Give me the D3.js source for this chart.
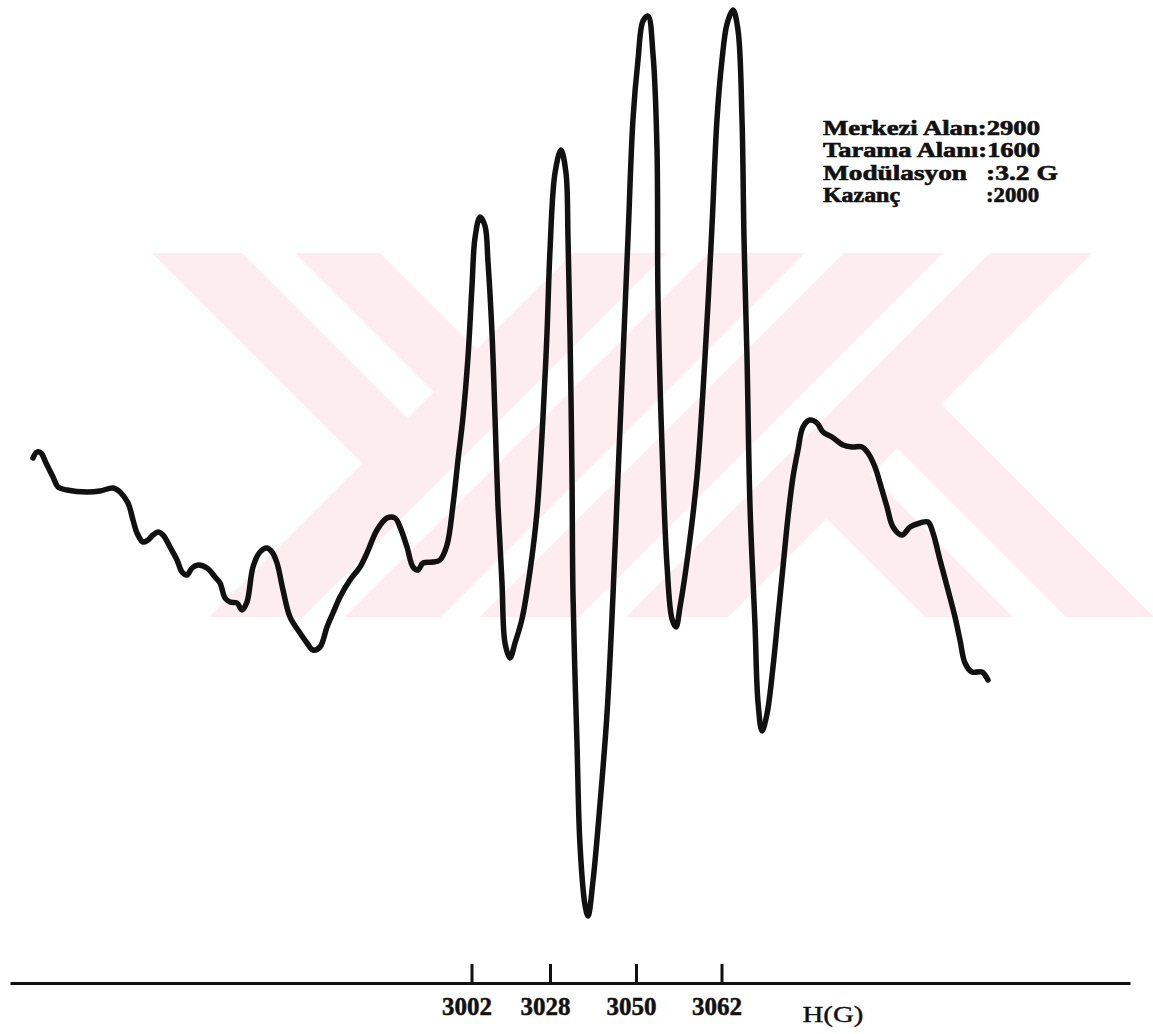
<!DOCTYPE html>
<html>
<head>
<meta charset="utf-8">
<script src="https://cdn.jsdelivr.net/npm/d3@7"></script>
<style>
  body { margin: 0; background: #fff; }
  svg { display: block; }
</style>
</head>
<body>
<svg id="chart" width="1153" height="1034"></svg>
<script>
// EPR trace: sweep position / signal amplitude (arb. units)
const sweep = [0, 0.8, 1.6, 2.6, 4, 5, 6.8, 10.8, 13.4, 16, 17.4, 19, 20, 20.8, 22, 23, 24, 25, 26, 27.4,
  28.8, 29.8, 30.8, 31.8, 33, 34.8, 36.4, 37.4, 38.4, 39.4, 40.8, 41.8, 42.8, 44, 45.4, 46.8, 47.8, 48.8, 50, 51.4,
  53.4, 54.8, 56, 57.4, 58.8, 60, 61.4, 63.4, 65.4, 66.8, 68.8, 70.8, 72.4, 73.4, 74.8, 76, 77, 78, 80, 81.4,
  82.8, 84, 85, 86, 87, 87.8, 88.4, 89.4, 90.4, 91, 91.8, 92.4, 93, 93.8, 94.4, 95.4, 96.4, 97.8, 99.4, 100.8,
  102, 102.8, 103.4, 104.4, 105.6, 106.6, 107, 107.4, 107.8, 108, 108.8, 109.4, 110.4, 111, 112, 113.4, 114.8, 116, 117, 118,
  119, 120, 121, 122, 123, 124, 124.8, 125, 125.8, 126.8, 127.8, 128.6, 129.4, 131, 132.8, 134.4, 135.8, 136.8, 137.8, 138.8,
  140, 141, 141.8, 142.2, 142.8, 143.4, 144.4, 145, 145.8, 146.8, 148, 149, 150, 151, 152, 153, 154, 155.4, 156.8, 158,
  159.8, 162, 163.8, 165.8, 167, 168.4, 169.4, 170.8, 172, 173.8, 175.4, 177.4, 179, 180, 181.4, 183, 184.4, 185.4, 186.4, 187.8,
  189.8, 191];
const signal = [1, 2.2, 2, 0, -2.8, -4.8, -5.4, -5.8, -5.6, -5, -5.8, -8, -11.4, -14, -15.8, -15.4, -14.4, -13.8, -14.4, -16.8,
  -19.4, -21.8, -22.4, -21, -20.4, -21, -22.8, -24, -27, -27.8, -28, -29.4, -27.8, -20.8, -17.8, -17, -17.8, -20, -25.4, -30.8,
  -34, -36, -37.4, -36.8, -32.8, -30, -26.8, -23.4, -20.8, -18, -13.4, -11, -11, -12.8, -16.8, -20.8, -21.4, -20, -19.8, -19.4,
  -16.4, -8.4, 0.6, 9.2, 21.2, 35.4, 45, 49.2, 47.4, 40.2, 26, 9.2, -8.6, -24, -36, -39, -36, -31.2, -21.6, -9.8,
  9.2, 26, 42.6, 58, 62.6, 58, 45, 26, -2.6, -26.4, -56.2, -76.4, -88.4, -90.6, -83.6, -68.2, -50.2, -26.4, -2.6, 21.2,
  45, 68.8, 80.6, 88.4, 89.4, 81.8, 62.8, 33, 3.4, -20.4, -31.2, -32.8, -28.8, -18.2, -2.6, 21.2, 47.4, 68.8, 80.6, 87.8,
  90.6, 86.6, 68.8, 45, 21.2, -8.6, -32.4, -47.8, -53.6, -50.2, -40.8, -30.8, -20.8, -10.8, -2.8, 2.6, 7.2, 8.6, 8, 6.2,
  5.2, 3.6, 3.2, 3.2, 2, -0.8, -4, -8.8, -12.8, -14.4, -12.8, -12, -11.8, -14, -19.4, -25.4, -30.8, -35.4, -40, -41.8,
  -41.8, -43.4];

// field markers on the sweep axis
const tickPos = [87.7, 103.4, 120.6, 137.7];
const tickLabels = ['3002', '3028', '3050', '3062'];
const axisTitle = 'H(G)';

// instrument settings
const paramNames = ['Merkezi Alan:2900', 'Tarama Alanı:1600', 'Modülasyon', 'Kazanç'];
const paramValues = ['', '', ':3.2 G', ':2000'];

const svg = d3.select('#chart');
const serif = '"Liberation Serif", "Times New Roman", serif';
const ink = '#111';

const x = d3.scaleLinear().domain([-4.6, 219.4]).range([10, 1130]);
const y = d3.scaleLinear().domain([-91, 91]).range([918, 8]);

// pale watermark behind the trace
const wm = svg.append('g').attr('fill', '#fdedf0');
const wTop = 253, wBot = 617;
const slashes = [[826, 920], [962, 1058], [1097, 1196], [1243, 1345]];   // x+y bands
slashes.forEach(([a, b]) => {
  wm.append('polygon').attr('points',
    [[a - wTop, wTop], [b - wTop, wTop], [b - wBot, wBot], [a - wBot, wBot]].join(' '));
});
const cutL = 836, cutR = 1335;
[[-101, -11], [42, 127]].forEach(([c, d]) => {   // x-y bands, upper left
  wm.append('polygon').attr('points',
    [[c + wTop, wTop], [d + wTop, wTop], [(cutL + d) / 2, (cutL - d) / 2], [(cutL + c) / 2, (cutL - c) / 2]].join(' '));
});
[[308, 396], [449, 537]].forEach(([c, d]) => {    // x-y bands, lower right
  wm.append('polygon').attr('points',
    [[(cutR + c) / 2, (cutR - c) / 2], [(cutR + d) / 2, (cutR - d) / 2], [d + wBot, wBot], [c + wBot, wBot]].join(' '));
});

// axis
const axis = d3.axisBottom(x)
  .tickValues(tickPos)
  .tickFormat((d, i) => tickLabels[i])
  .tickSize(-19)
  .tickSizeOuter(0)
  .tickPadding(14);

const gx = svg.append('g').attr('transform', 'translate(0,983)').call(axis);
gx.select('.domain').attr('stroke', ink).attr('stroke-width', 3);
gx.selectAll('.tick line').attr('stroke', ink).attr('stroke-width', 3);
gx.selectAll('.tick text')
  .attr('font-family', serif)
  .attr('font-size', 25)
  .attr('font-weight', 'bold')
  .attr('fill', ink)
  .attr('stroke', ink)
  .attr('stroke-width', 0.5)
  .attr('dx', -5);

gx.append('text')
  .attr('x', x(160))
  .attr('y', 39)
  .attr('text-anchor', 'middle')
  .attr('font-family', serif)
  .attr('font-size', 24)
  .attr('fill', ink)
  .attr('stroke', ink)
  .attr('stroke-width', 0.4)
  .attr('textLength', 61)
  .attr('lengthAdjust', 'spacingAndGlyphs')
  .text(axisTitle);

// the trace
const pts = sweep.map((s, i) => [s, signal[i]]);
const line = d3.line()
  .x(d => x(d[0]))
  .y(d => y(d[1]))
  .curve(d3.curveCatmullRom.alpha(0.5));

svg.append('path')
  .attr('d', line(pts))
  .attr('fill', 'none')
  .attr('stroke', ink)
  .attr('stroke-width', 5.5)
  .attr('stroke-linejoin', 'round')
  .attr('stroke-linecap', 'round');

// settings block, top right
const nameLen = [217, 217, 144, 77];
const valLen = [0, 0, 72, 53];
const note = svg.append('g')
  .attr('font-family', serif)
  .attr('font-size', 20)
  .attr('font-weight', 'bold')
  .attr('fill', ink)
  .attr('stroke', ink)
  .attr('stroke-width', 0.6);

paramNames.forEach((t, i) => {
  const by = 135 + i * 22.4;
  note.append('text')
    .attr('x', 823).attr('y', by)
    .attr('textLength', nameLen[i])
    .attr('lengthAdjust', 'spacingAndGlyphs')
    .text(t);
  if (paramValues[i]) {
    note.append('text')
      .attr('x', 986).attr('y', by)
      .attr('textLength', valLen[i])
      .attr('lengthAdjust', 'spacingAndGlyphs')
      .text(paramValues[i]);
  }
});
</script>
</body>
</html>
